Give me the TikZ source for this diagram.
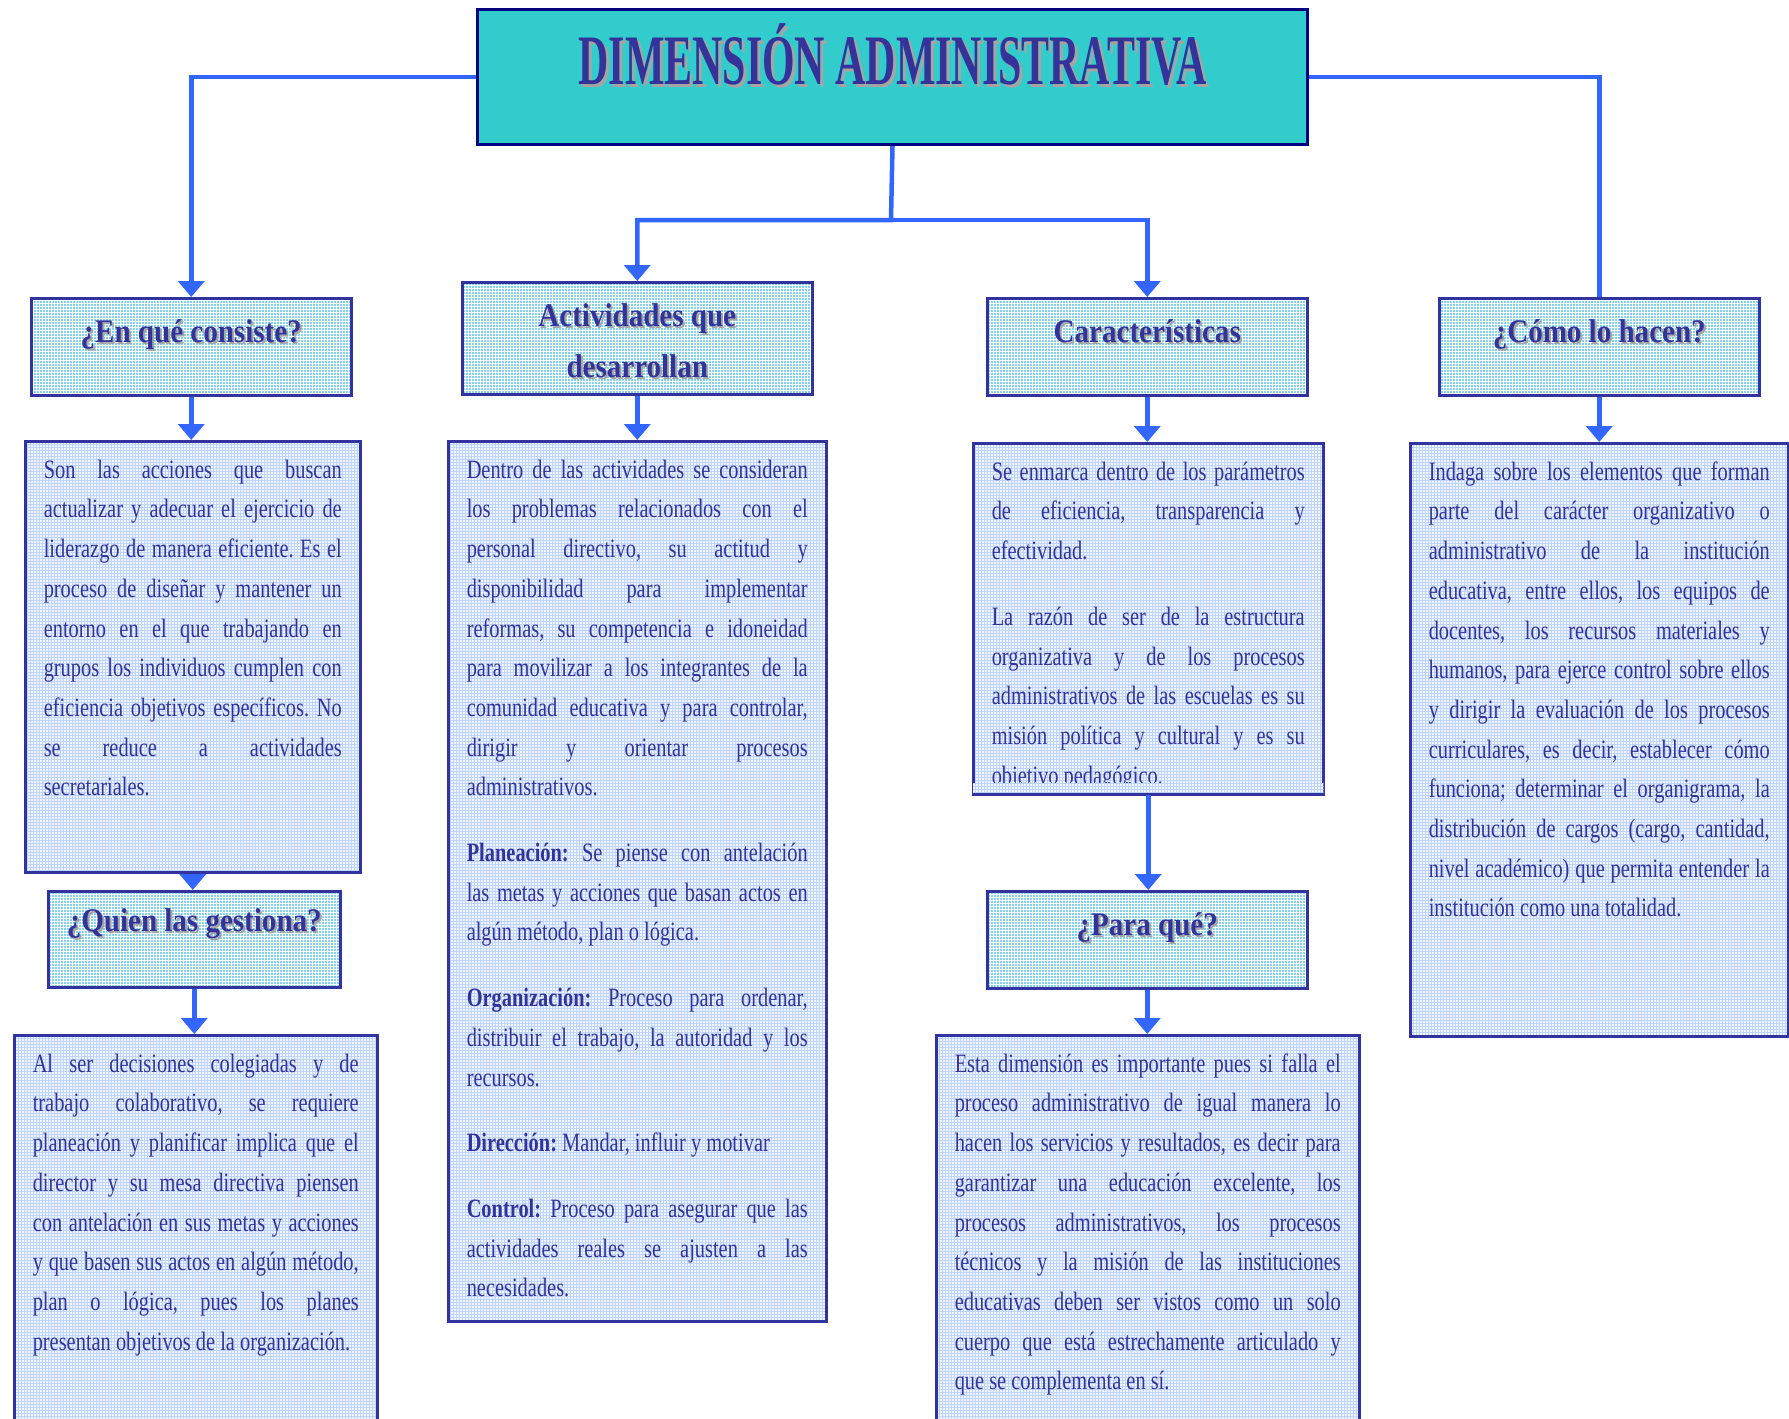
\documentclass[tikz,border=0pt]{standalone}
\usepackage{fontspec}
\usepackage{tikz}
\usetikzlibrary{arrows.meta,patterns}
\setmainfont[FakeStretch=0.77]{Liberation Serif}
\newfontfamily\headfont[FakeStretch=0.88]{Liberation Serif}
\newfontfamily\titlefont[FakeStretch=0.59]{Liberation Serif}
\definecolor{linkblue}{RGB}{51,102,255}
\definecolor{navyline}{RGB}{51,51,160}
\definecolor{titlenavy}{RGB}{0,0,128}
\definecolor{inkblue}{RGB}{51,51,153}
\definecolor{titleteal}{RGB}{51,204,204}
\definecolor{headcyan}{RGB}{130,210,235}
\definecolor{paperblue}{RGB}{238,245,255}
\definecolor{gridblue}{RGB}{190,212,248}
\definecolor{shadowgray}{RGB}{165,165,165}

% gray shadow behind a title
\newcommand{\sombra}[2][2pt]{\leavevmode\rlap{\raisebox{-#1}{\hspace*{#1}\textcolor{shadowgray}{#2}}}#2}

% justified body text of a box
\newcommand{\bloque}[3]{%
  \begin{minipage}[t][#2][t]{#1}%
    \fontsize{26.5pt}{39.7pt}\selectfont\color{inkblue}\frenchspacing
    \parindent=0pt\parskip=0pt\hyphenpenalty=10000\exhyphenpenalty=10000\tolerance=9999%
    \vspace*{-2.7pt}\mbox{}\par
    #3%
  \end{minipage}}

\begin{document}
\begin{tikzpicture}[x=1pt, y=-1pt,
    conn/.style={draw=linkblue, line width=4.5pt},
    tip/.style={-{Triangle[width=26pt,length=16pt]}},
    titlebox/.style={draw=titlenavy, line width=3pt, fill=titleteal, inner sep=0pt,
        anchor=north west, minimum width=830pt, text height=74.5pt, text depth=60.5pt,
        text=inkblue, font=\titlefont\bfseries\fontsize{71}{71}\selectfont},
    headbox/.style={draw=navyline, line width=2.5pt, preaction={fill=headcyan},
        pattern=grid, pattern color=white, inner sep=0pt, anchor=north west,
        minimum width=320pt, text=inkblue, font=\headfont\bfseries\fontsize{33}{51}\selectfont},
    oneline/.style={text height=44pt, text depth=53pt},
    textbox/.style={draw=navyline, line width=2.5pt, preaction={fill=paperblue},
        pattern=grid, pattern color=gridblue, inner xsep=18.5pt, inner ysep=0pt,
        anchor=north west}]

    \useasboundingbox (0,0) rectangle (1789,1419);
    \clip (0,0) rectangle (1789,1419);

    % title
    \node[titlebox] (title) at (476,8) {\sombra[3pt]{DIMENSIÓN ADMINISTRATIVA}};

    % questions
    \node[headbox, oneline] (cons) at (30,297) {\sombra{¿En qué consiste?}};
    \node[headbox, minimum width=350pt, align=center, text height=95pt, text depth=17pt] (act) at (461,281)
        {\sombra{Actividades que}\\\sombra{desarrollan}};
    \node[headbox, oneline] (car) at (986,297) {\sombra{Características}};
    \node[headbox, oneline] (como) at (1438,297) {\sombra{¿Cómo lo hacen?}};
    \node[headbox, minimum width=292pt, text height=40pt, text depth=56pt] (quien) at (47,890)
        {\sombra{¿Quien las gestiona?}};
    \node[headbox, oneline] (para) at (986,890) {\sombra{¿Para qué?}};

    % answers
    \node[textbox] (consT) at (24,440) {\bloque{298pt}{431pt}{%
        Son las acciones que buscan \linebreak actualizar y adecuar el ejercicio de \linebreak
        liderazgo de manera eficiente. Es el \linebreak proceso de diseñar y mantener un \linebreak
        entorno en el que trabajando en \linebreak grupos los individuos cumplen con \linebreak
        eficiencia objetivos específicos. No \linebreak se reduce a actividades \linebreak
        secretariales.\par}};

    \node[textbox] (actT) at (447,440) {\bloque{341pt}{880pt}{%
        Dentro de las actividades se consideran \linebreak los problemas relacionados con el \linebreak
        personal directivo, su actitud y \linebreak disponibilidad para implementar \linebreak
        reformas, su competencia e idoneidad \linebreak para movilizar a los integrantes de la \linebreak
        comunidad educativa y para controlar, \linebreak dirigir y orientar procesos \linebreak
        administrativos.\par\vspace{26pt}
        \textbf{Planeación:} Se piense con antelación \linebreak las metas y acciones que basan actos en \linebreak
        algún método, plan o lógica.\par\vspace{26pt}
        \textbf{Organización:} Proceso para ordenar, \linebreak distribuir el trabajo, la autoridad y los \linebreak
        recursos.\par\vspace{26pt}
        \textbf{Dirección:} Mandar, influir y motivar\par\vspace{26pt}
        \textbf{Control:} Proceso para asegurar que las \linebreak actividades reales se ajusten a las \linebreak
        necesidades.\par}};

    \node[textbox] (carT) at (972,442) {\bloque{313pt}{350pt}{%
        Se enmarca dentro de los parámetros \linebreak de eficiencia, transparencia y \linebreak
        efectividad.\par\vspace{26pt}
        La razón de ser de la estructura \linebreak organizativa y de los procesos \linebreak
        administrativos de las escuelas es su \linebreak misión política y cultural y es su \linebreak
        objetivo pedagógico.\par}};
    % last line cut off
    \fill[preaction={fill=paperblue}, pattern=grid, pattern color=gridblue]
        ([shift={(1.25,-12)}]carT.south west) rectangle ([shift={(-1.25,-1.25)}]carT.south east);
    \draw[navyline, line width=2.5pt] (carT.south west) -- (carT.south east);

    \node[textbox] (comoT) at (1409,442) {\bloque{341pt}{593pt}{%
        Indaga sobre los elementos que forman \linebreak parte del carácter organizativo o \linebreak
        administrativo de la institución \linebreak educativa, entre ellos, los equipos de \linebreak
        docentes, los recursos materiales y \linebreak humanos, para ejerce control sobre ellos \linebreak
        y dirigir la evaluación de los procesos \linebreak curriculares, es decir, establecer cómo \linebreak
        funciona; determinar el organigrama, la \linebreak distribución de cargos (cargo, cantidad, \linebreak
        nivel académico) que permita entender la \linebreak institución como una totalidad.\par}};

    \node[textbox] (quienT) at (13,1034) {\bloque{326pt}{420pt}{%
        Al ser decisiones colegiadas y de \linebreak trabajo colaborativo, se requiere \linebreak
        planeación y planificar implica que el \linebreak director y su mesa directiva piensen \linebreak
        con antelación en sus metas y acciones \linebreak y que basen sus actos en algún método, \linebreak
        plan o lógica, pues los planes \linebreak presentan objetivos de la organización.\par}};

    \node[textbox] (paraT) at (935,1034) {\bloque{386pt}{420pt}{%
        Esta dimensión es importante pues si falla el \linebreak proceso administrativo de igual manera lo \linebreak
        hacen los servicios y resultados, es decir para \linebreak garantizar una educación excelente, los \linebreak
        procesos administrativos, los procesos \linebreak técnicos y la misión de las instituciones \linebreak
        educativas deben ser vistos como un solo \linebreak cuerpo que está estrechamente articulado y \linebreak
        que se complementa en sí.\par}};

    % connectors from the title
    \coordinate (split) at (891,220);
    \draw[conn, tip] (title.west) -| (cons.north);
    \draw[conn] (title.east) -| (como.north);
    \draw[conn, tip] (title.south) -- (split) -| (act.north);
    \draw[conn, tip] (split) -| (car.north);

    % connectors down the columns
    \draw[conn, tip] (cons.south) -- (cons.south |- consT.north);
    \draw[conn, tip] (consT.south) -- (consT.south |- quien.north);
    \draw[conn, tip] (quien.south) -- (quien.south |- quienT.north);
    \draw[conn, tip] (act.south) -- (act.south |- actT.north);
    \draw[conn, tip] (car.south) -- (car.south |- carT.north);
    \draw[conn, tip] (carT.south) -- (carT.south |- para.north);
    \draw[conn, tip] (para.south) -- (para.south |- paraT.north);
    \draw[conn, tip] (como.south) -- (como.south |- comoT.north);
\end{tikzpicture}
\end{document}
